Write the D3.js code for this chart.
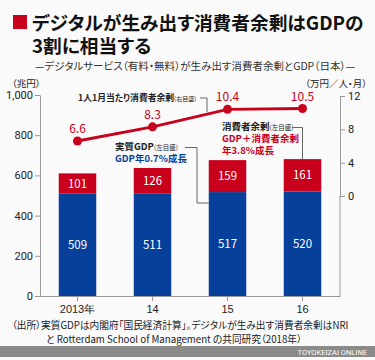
<!DOCTYPE html>
<html>
<head>
<meta charset="utf-8">
<script src="https://cdn.jsdelivr.net/npm/d3@7"></script>
<style>
  body { margin: 0; background: #fafafa; }
  svg { display: block; font-family: "Noto Sans CJK JP", "Noto Sans", sans-serif; font-feature-settings: "palt"; }
</style>
</head>
<body>
<svg id="chart" width="375" height="360"></svg>
<script>
const years = ["2013年", "14", "15", "16"];
const gdp = [509, 511, 517, 520];
const surplus = [101, 126, 159, 161];
const perPerson = [6.6, 8.3, 10.4, 10.5];
const leftTicks = [0, 200, 400, 600, 800, 1000];
const rightTicks = [0, 4, 8, 12];

const BLUE = "#07409a";
const RED = "#c8001c";

const svg = d3.select("#chart");
svg.append("rect").attr("width", 375).attr("height", 360).attr("fill", "#fafafa");

// title
svg.append("rect").attr("x", 13).attr("y", 15).attr("width", 14).attr("height", 14).attr("fill", RED);
svg.append("text").attr("x", 32).attr("y", 30)
  .attr("font-size", 18.7).attr("font-weight", "bold").attr("fill", "#111")
  .text("デジタルが生み出す消費者余剰はGDPの");
svg.append("text").attr("x", 32).attr("y", 53)
  .attr("font-size", 18.7).attr("font-weight", "bold").attr("fill", "#111")
  .text("3割に相当する");
svg.append("text").attr("x", 35).attr("y", 70)
  .attr("font-size", 10.5).attr("fill", "#333")
  .text("—デジタルサービス（有料・無料）が生み出す消費者余剰とGDP（日本）—");

// scales
const x = d3.scaleBand().domain(years).range([40, 340]).paddingInner(0.5).paddingOuter(0.25);
const yL = d3.scaleLinear().domain([0, 1000]).range([296, 95]);
const yR = d3.scaleLinear().domain([0, 12]).range([196, 96]);

// axes
const gL = svg.append("g").attr("transform", "translate(40,0)")
  .call(d3.axisLeft(yL).tickValues(leftTicks).tickFormat(d3.format(",")).tickSize(5).tickSizeOuter(0));
gL.selectAll("text").attr("font-size", 11).attr("fill", "#222").attr("x", -7).attr("font-family", "Roboto, sans-serif");
gL.selectAll("line").attr("stroke", "#999");
gL.select(".domain").attr("stroke", "#999");

const gR = svg.append("g").attr("transform", "translate(340,0)")
  .call(d3.axisRight(yR).tickValues(rightTicks).tickSize(5).tickSizeOuter(0));
gR.selectAll("text").attr("font-size", 11).attr("fill", "#222").attr("x", 8).attr("font-family", "Roboto, sans-serif");
gR.selectAll("line").attr("stroke", "#999");
gR.select(".domain").attr("stroke", "#999");
// right axis line down to the baseline
svg.append("line").attr("x1", 340).attr("x2", 340).attr("y1", yR(0)).attr("y2", yL(0)).attr("stroke", "#999");

const gX = svg.append("g").attr("transform", `translate(0,${yL(0)})`)
  .call(d3.axisBottom(x).tickSize(5).tickSizeOuter(0));
gX.selectAll("text").attr("font-size", 11).attr("fill", "#222").attr("y", 9);
gX.selectAll("line").attr("stroke", "#999");
gX.select(".domain").attr("stroke", "#999");

svg.append("text").attr("x", 12).attr("y", 87).attr("font-size", 9.5).attr("fill", "#222").text("（兆円）");
svg.append("text").attr("x", 367).attr("y", 87).attr("text-anchor", "end").attr("font-size", 9.5).attr("fill", "#222").text("（万円／人・月）");

// bars
const bars = svg.append("g");
bars.selectAll("rect.gdp").data(years).join("rect")
  .attr("class", "gdp")
  .attr("x", d => x(d)).attr("width", x.bandwidth())
  .attr("y", (d, i) => yL(gdp[i])).attr("height", (d, i) => yL(0) - yL(gdp[i]))
  .attr("fill", BLUE);
bars.selectAll("rect.surplus").data(years).join("rect")
  .attr("class", "surplus")
  .attr("x", d => x(d)).attr("width", x.bandwidth())
  .attr("y", (d, i) => yL(gdp[i] + surplus[i])).attr("height", (d, i) => yL(gdp[i]) - yL(gdp[i] + surplus[i]))
  .attr("fill", RED);

bars.selectAll("text.gdpv").data(years).join("text")
  .attr("class", "gdpv")
  .attr("x", d => x(d) + x.bandwidth() / 2)
  .attr("y", (d, i) => (yL(0) + yL(gdp[i])) / 2 + 4)
  .attr("text-anchor", "middle").attr("font-size", 11.5).attr("fill", "#fff")
  .text((d, i) => gdp[i]);
bars.selectAll("text.surv").data(years).join("text")
  .attr("class", "surv")
  .attr("x", d => x(d) + x.bandwidth() / 2)
  .attr("y", (d, i) => (yL(gdp[i]) + yL(gdp[i] + surplus[i])) / 2 + 4)
  .attr("text-anchor", "middle").attr("font-size", 11.5).attr("fill", "#fff")
  .text((d, i) => surplus[i]);

// line
const cx = d => x(d) + x.bandwidth() / 2;
const lineY = (d, i) => yR(perPerson[i]);
svg.append("path")
  .datum(years)
  .attr("d", d3.line().x(cx).y(lineY))
  .attr("fill", "none").attr("stroke", RED).attr("stroke-width", 2.8);
svg.selectAll("circle.pt").data(years).join("circle")
  .attr("class", "pt")
  .attr("cx", cx).attr("cy", lineY).attr("r", 4.5)
  .attr("fill", RED);
svg.selectAll("text.ptv").data(years).join("text")
  .attr("class", "ptv")
  .attr("x", cx).attr("y", (d, i) => yR(perPerson[i]) - 8)
  .attr("text-anchor", "middle").attr("font-size", 12).attr("fill", RED)
  .text((d, i) => d3.format(".1f")(perPerson[i]));

// annotations
const ann1 = svg.append("text").attr("x", 78).attr("y", 101).attr("font-size", 8.8).attr("fill", "#222");
ann1.append("tspan").attr("font-weight", "bold").text("1人1月当たり消費者余剰");
ann1.append("tspan").attr("font-size", 6).text("(右目盛)");
// leader to the line, between 14 and 15
const lx = 207;
const t = (lx - cx("14")) / (cx("15") - cx("14"));
const ly = yR(perPerson[1] + t * (perPerson[2] - perPerson[1]));
svg.append("path")
  .attr("d", `M200,98H${lx}V${ly - 2}`)
  .attr("fill", "none").attr("stroke", "#666").attr("stroke-width", 1);

const ann2 = svg.append("text").attr("x", 115).attr("y", 150).attr("font-size", 9.5).attr("fill", "#222");
ann2.append("tspan").attr("font-weight", "bold").text("実質GDP");
ann2.append("tspan").attr("font-size", 6.5).text("(左目盛)");
svg.append("text").attr("x", 115).attr("y", 162).attr("font-size", 9.5).attr("font-weight", "bold").attr("fill", BLUE)
  .text("GDP年0.7%成長");
svg.append("path")
  .attr("d", `M185,147.5H197V203H${x("15")}`)
  .attr("fill", "none").attr("stroke", "#666").attr("stroke-width", 1);

const ann3 = svg.append("text").attr("x", 222).attr("y", 130).attr("font-size", 9.5).attr("fill", "#222");
ann3.append("tspan").attr("font-weight", "bold").text("消費者余剰");
ann3.append("tspan").attr("font-size", 6.5).text("(左目盛)");
svg.append("text").attr("x", 222).attr("y", 142).attr("font-size", 9.5).attr("font-weight", "bold").attr("fill", RED)
  .text("GDP＋消費者余剰");
svg.append("text").attr("x", 222).attr("y", 154).attr("font-size", 9.5).attr("font-weight", "bold").attr("fill", RED)
  .text("年3.8%成長");
svg.append("path")
  .attr("d", `M292,127.5H${cx("16")}V${yL(gdp[3] + surplus[3])}`)
  .attr("fill", "none").attr("stroke", "#666").attr("stroke-width", 1);

// source
svg.append("text").attr("x", 12).attr("y", 329).attr("font-size", 9.7).attr("fill", "#222")
  .text("（出所）実質GDPは内閣府「国民経済計算」。デジタルが生み出す消費者余剰はNRI");
svg.append("text").attr("x", 46).attr("y", 343).attr("font-size", 9.7).attr("fill", "#222")
  .text("と Rotterdam School of Management の共同研究（2018年）");

// footer
svg.append("rect").attr("x", 0).attr("y", 346).attr("width", 375).attr("height", 11).attr("fill", "#8a8a8a");
svg.append("text").attr("x", 367).attr("y", 354.5).attr("text-anchor", "end")
  .attr("font-size", 7.5).attr("fill", "#fff").attr("font-family", "Roboto, sans-serif")
  .text("TOYOKEIZAI ONLINE");
</script>
</body>
</html>
